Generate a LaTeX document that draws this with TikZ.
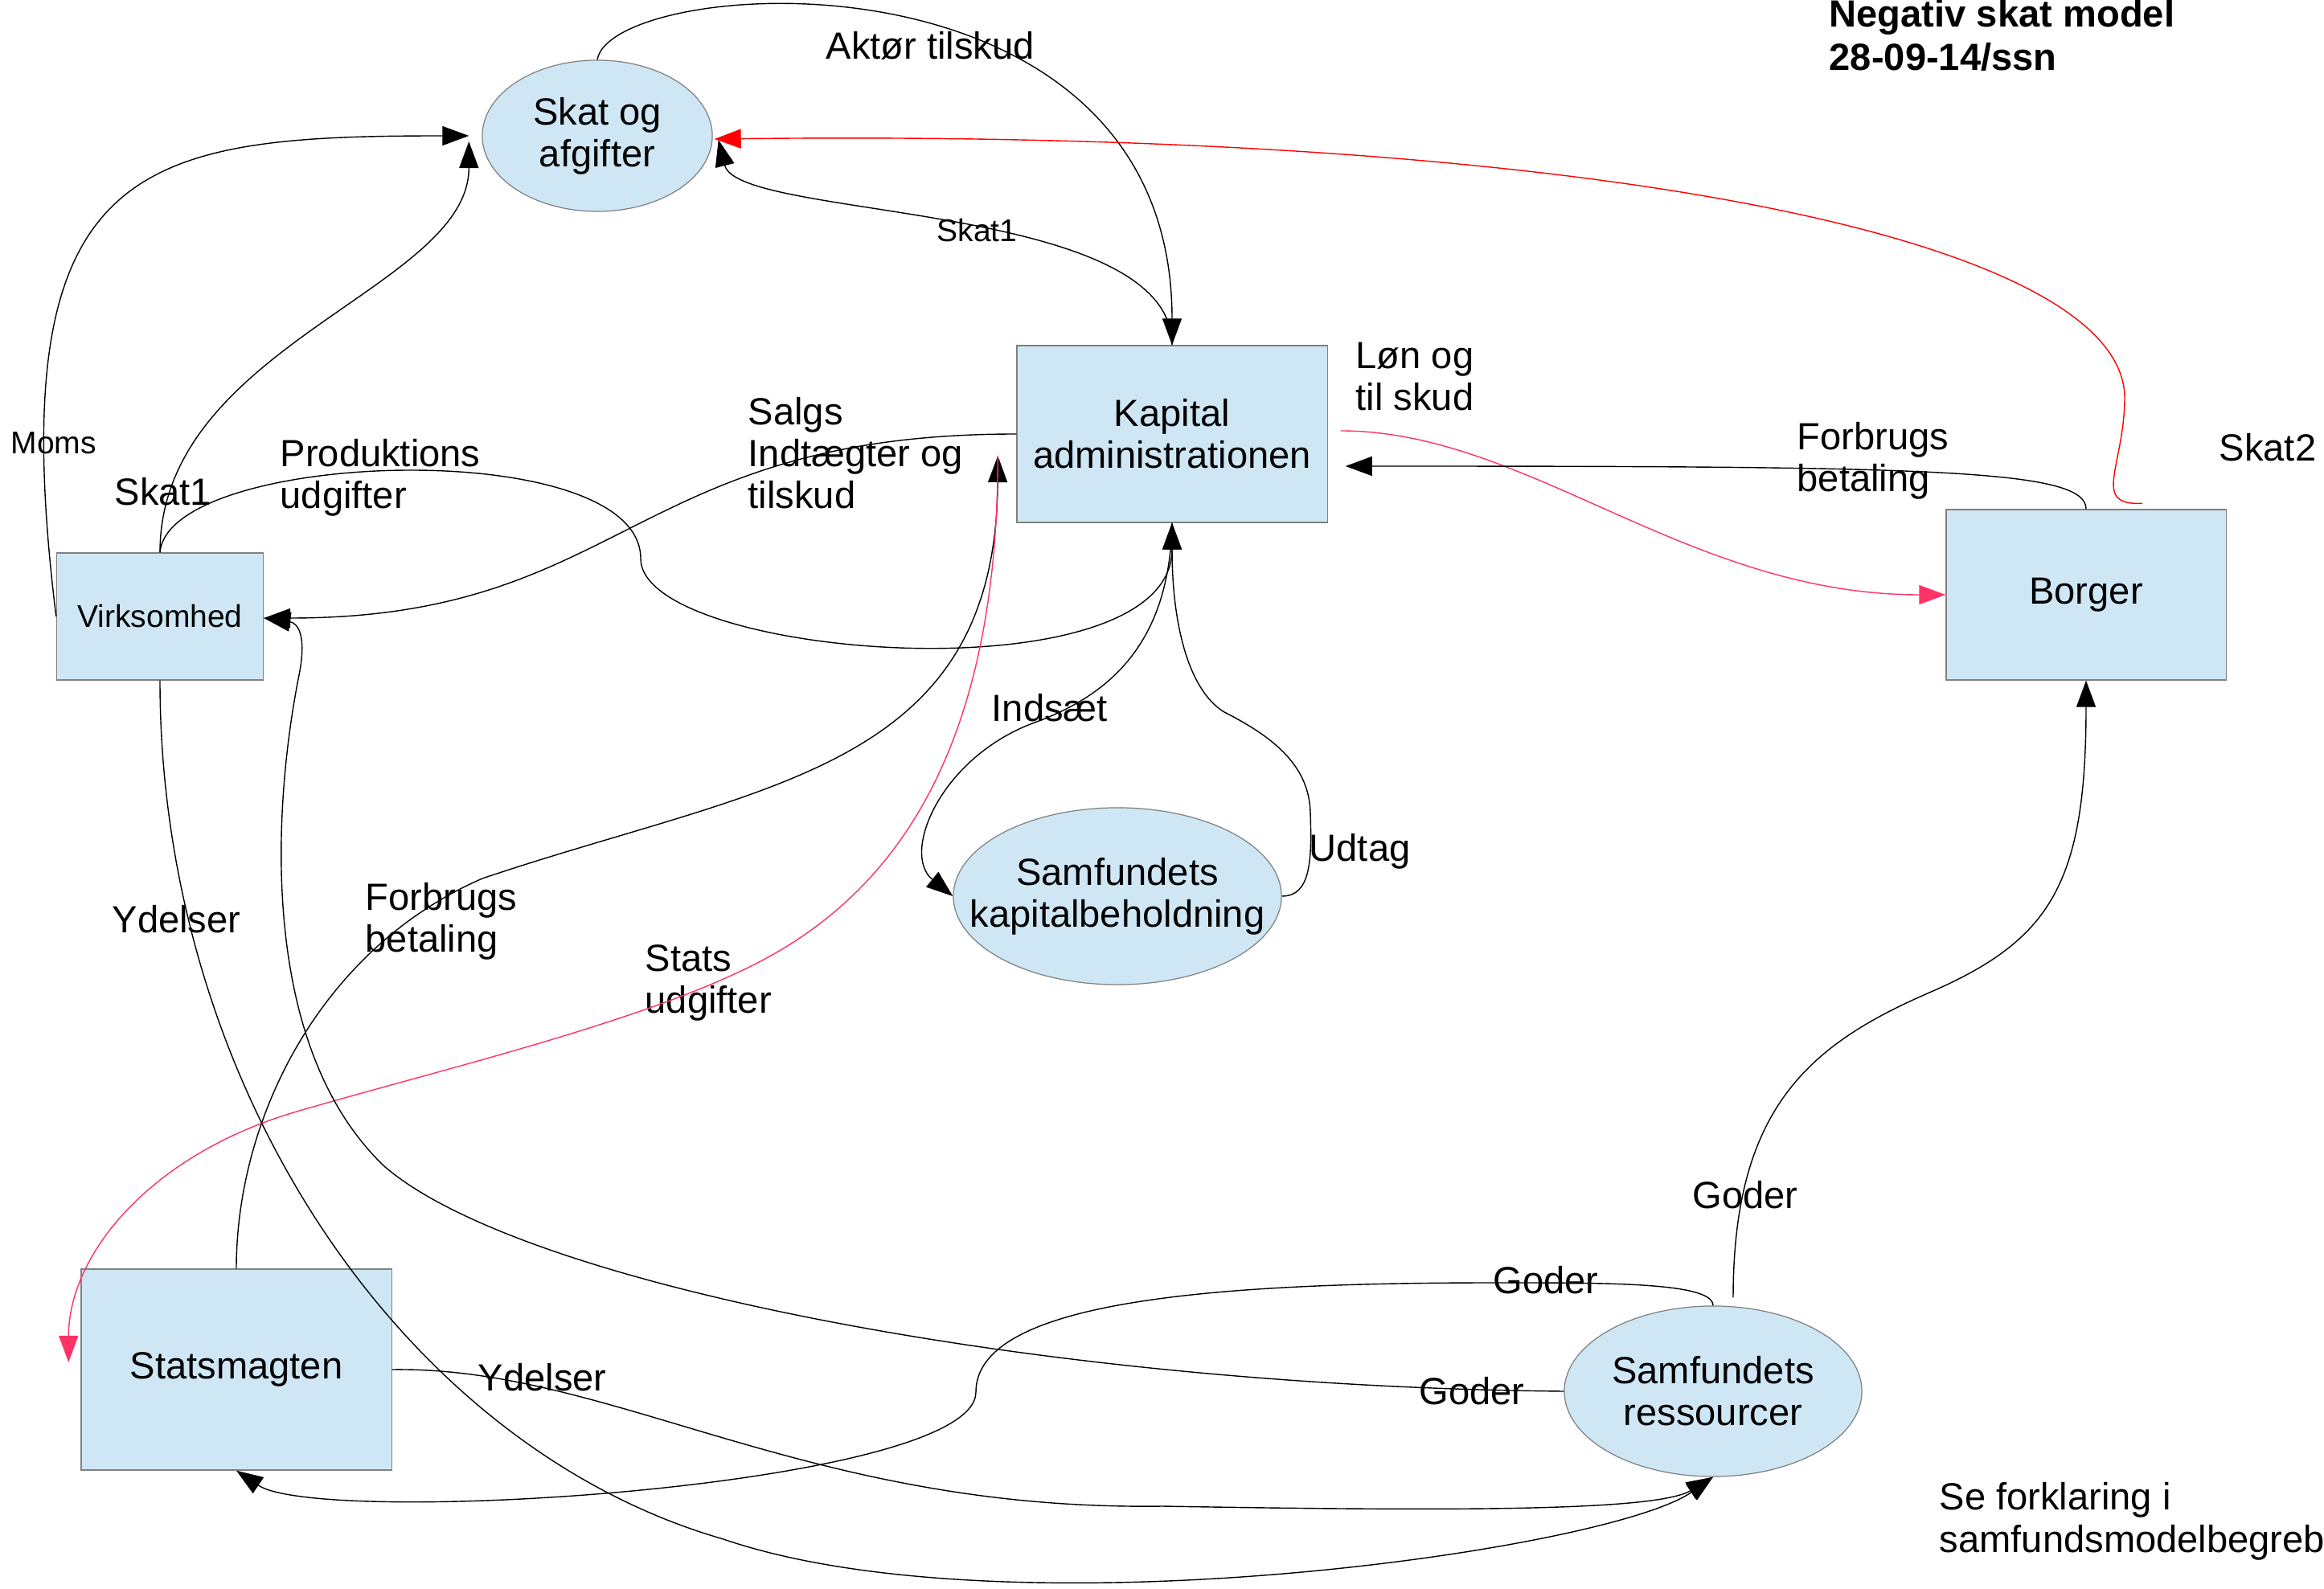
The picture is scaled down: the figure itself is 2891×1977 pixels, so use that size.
\documentclass[tikz,border=0pt]{standalone}
\usepackage{fontspec}
\setmainfont{Liberation Sans}
\usetikzlibrary{arrows.meta,shapes.geometric,calc}
\definecolor{boxfill}{RGB}{207,231,245}
\definecolor{boxline}{RGB}{128,128,128}
\definecolor{pinkline}{RGB}{255,51,102}
\definecolor{redline}{RGB}{255,0,0}
\newcommand\bigf{\fontsize{13.4pt}{14.8pt}\selectfont}
\newcommand\smallf{\fontsize{11.1pt}{13pt}\selectfont}
\newcommand\titlef{\fontsize{13.4pt}{15.6pt}\selectfont\bfseries}
\begin{document}
\begin{tikzpicture}[x=0.01cm,y=-0.01cm,
  kbox/.style={draw=boxline,fill=boxfill,line width=0.35pt,rectangle,align=center,font=\bigf,inner sep=0pt},
  oval/.style={draw=boxline,fill=boxfill,line width=0.35pt,ellipse,align=center,font=\bigf,inner sep=0pt},
  lbl/.style={anchor=base west,align=left,font=\bigf,inner sep=0pt},
  slbl/.style={anchor=base west,align=left,font=\smallf,inner sep=0pt},
  conn/.style={draw=black,line width=0.4pt,-{Triangle[length=0.33cm,width=0.24cm]}},
  pconn/.style={conn,draw=pinkline},
  rconn/.style={conn,draw=redline}]
\path[use as bounding box,fill=white] (0,0) rectangle (2891,1977);

% nodes
\node[oval,minimum width=2.86cm,minimum height=1.88cm] (skat) at (743,169) {Skat og\\afgifter};
\node[kbox,minimum width=3.86cm,minimum height=2.2cm] (kap) at (1458,540) {Kapital\\administrationen};
\node[kbox,minimum width=3.48cm,minimum height=2.12cm] (borger) at (2595,740) {Borger};
\node[kbox,minimum width=2.57cm,minimum height=1.58cm,font=\smallf] (vk) at (199,767) {Virksomhed};
\node[kbox,minimum width=3.86cm,minimum height=2.5cm] (stats) at (294,1704) {Statsmagten};
\node[oval,minimum width=4.08cm,minimum height=2.2cm,
  label={[align=center,font=\bigf,inner sep=0pt]center:{Samfundets\\kapitalbeholdning}}] (kb) at (1390,1115) {};
\node[oval,minimum width=3.70cm,minimum height=2.12cm] (res) at (2131,1731) {Samfundets\\ressourcer};

% labels (anchor = baseline of the last line)
\node[lbl] (tAkt) at (1027,74) {Aktør tilskud};
\node[slbl] (tSk1a) at (1165,301) {Skat1};
\node[lbl] (tLon) at (1686,511) {Løn og\\til skud};
\node[lbl] (tSalg) at (930,633) {Salgs\\Indtægter og\\tilskud};
\node[lbl] (tProd) at (348,633) {Produktions\\udgifter};
\node[lbl] (tSk1b) at (142,629) {Skat1};
\node[slbl] (tMoms) at (13,565) {Moms};
\node[lbl] (tForR) at (2235,612) {Forbrugs\\betaling};
\node[lbl] (tSk2) at (2760,574) {Skat2};
\node[lbl] (tInd) at (1233,898) {Indsæt};
\node[lbl] (tUdt) at (1628,1072) {Udtag};
\node[lbl] (tYdL) at (139,1160) {Ydelser};
\node[lbl] (tForL) at (454,1185) {Forbrugs\\betaling};
\node[lbl] (tStat) at (802,1261) {Stats\\udgifter};
\node[lbl] (tYdB) at (594,1730) {Ydelser};
\node[lbl] (tGod1) at (1857,1609) {Goder};
\node[lbl] (tGod2) at (1765,1747) {Goder};
\node[lbl] (tGod3) at (2105,1503) {Goder};
\node[lbl] (tSe) at (2412,1931) {Se forklaring i\\samfundsmodelbegreb};
\node[anchor=base west,align=left,font=\titlef,inner sep=0pt] (title) at (2275,88) {Negativ skat model\\28-09-14/ssn};

% free ends
\coordinate (fbtip) at ($(kap.west)+(-23,27)$);
\coordinate (s2) at ($(borger.north)+(70,-7)$);
\coordinate (godtop) at ($(res.north)+(25,-10)$);

% connectors
\draw[conn] (vk.north) .. controls +(0,-258) and +(0,184) .. ($(skat.west)+(-16,7)$);
\draw[conn] (vk.west) .. controls +(-70,-567) and +(-414,0) .. ($(skat.west)+(-16,0)$);
\draw[conn] (skat.north) .. controls +(17,-105) and +(0,-510) .. (kap.north);
\draw[conn] (kap.north) .. controls +(0,-180) and +(25,100) .. ($(skat.east)+(7,5)$);
\draw[rconn] (s2) .. controls +(-65,3) and +(0,86) .. (2643,494) .. controls +(-3,-194) and +(1112,-13) .. ($(skat.east)+(2,4)$);
\draw[pconn] ($(kap.east)+(16,-4)$) .. controls +(233,0) and +(-321,0) .. (borger.west);
\draw[conn] (borger.north) .. controls +(0,-50) and +(727,0) .. ($(kap.east)+(22,40)$);
\draw[conn] (kap.west) .. controls +(-480,0) and +(450,0) .. ($(vk.east)+(0,2)$);
\draw[conn] (vk.north) .. controls +(11,-128) and +(0,-155) .. (797,695) .. controls +(0,125) and +(0,220) .. (kap.south);
\draw[conn] (kap.south) .. controls +(-3,150) and +(93,-34) .. (1287,899) .. controls +(-117,43) and +(-65,-53) .. (kb.west);
\draw[conn] (kb.east) .. controls +(36,0) and +(2,60) .. (1630,1010) .. controls +(-2,-60) and +(57,29) .. (1523,886) .. controls +(-43,-26) and +(0,130) .. (kap.south);
\draw[conn] (stats.north) .. controls +(0,-189) and +(-200,87) .. (600,1093) .. controls +(350,-118) and +(-2,393) .. (fbtip);
\draw[pconn] (fbtip) .. controls +(0,383) and +(141,-79) .. (959,1189) .. controls +(-139,78) and +(181,-53) .. (369,1383) .. controls +(-181,53) and +(0,-135) .. ($(stats.west)+(-15,-9)$);
\draw[conn] (vk.south) .. controls +(0,504) and +(-400,-115) .. (900,1915) .. controls +(350,120) and +(-131,92) .. (res.south);
\draw[conn] (stats.east) .. controls +(273,-4) and +(-446,6) .. (1446,1874) .. controls +(354,6) and +(-71,43) .. (res.south);
\draw[conn] (res.north) .. controls +(0,-29) and +(143,0) .. (1857,1596) .. controls +(-357,0) and +(0,-112) .. (1214,1732) .. controls +(0,118) and +(106,71) .. (stats.south);
\draw[conn] (res.west) .. controls +(-646,-6) and +(172,149) .. (478,1451) .. controls +(-158,-151) and +(-32,160) .. (372,840) .. controls +(10,-50) and +(42,6) .. ($(vk.east)+(0,2)$);
\draw[conn] (godtop) .. controls +(0,-235) and +(-150,65) .. (2400,1235) .. controls +(150,-65) and +(0,254) .. (borger.south);
\end{tikzpicture}
\end{document}
